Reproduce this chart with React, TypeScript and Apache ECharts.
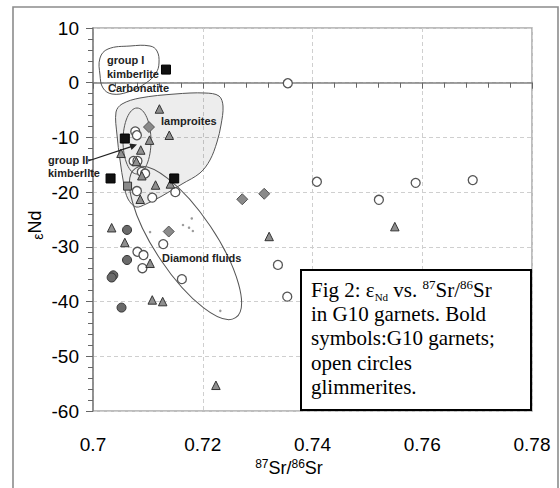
import React, { useEffect, useRef } from 'react';
import * as echarts from 'echarts';

// ---- data (87Sr/86Sr , eps Nd) ----
const blackSquares: number[][] = [[0.7133, 2.4], [0.7058, -10.2], [0.7032, -17.5], [0.7148, -17.5]];
const graySquares: number[][] = [[0.7063, -18.9]];
const triangles: number[][] = [
  [0.7121, -4.8], [0.7139, -9.6], [0.7103, -10.5], [0.7051, -12.9], [0.7087, -12.3],
  [0.7079, -14.4], [0.7089, -17.0], [0.7114, -18.7], [0.7141, -18.5], [0.7086, -21.3],
  [0.7034, -26.5], [0.7058, -29.2], [0.7104, -33.0], [0.7108, -39.7], [0.7127, -40.0],
  [0.7224, -55.3], [0.7321, -28.1], [0.755, -26.3],
];
const darkCircles: number[][] = [[0.7062, -26.9], [0.7062, -32.4], [0.7037, -35.2], [0.7034, -35.6], [0.7052, -41.1]];
const diamonds: number[][] = [[0.7102, -8.1], [0.7138, -27.2], [0.7272, -21.3], [0.7312, -20.3]];
const openCircles: number[][] = [
  [0.7355, -0.1], [0.7077, -8.9], [0.708, -9.6], [0.7074, -14.3], [0.7081, -14.3],
  [0.7089, -16.3], [0.7095, -16.6], [0.708, -19.8], [0.715, -20.0], [0.7108, -21.0],
  [0.7128, -29.5], [0.7081, -30.9], [0.7092, -31.5], [0.709, -33.9], [0.7162, -35.9],
  [0.7337, -33.3], [0.7354, -39.1], [0.7408, -18.1], [0.7588, -18.3], [0.7692, -17.8],
  [0.7521, -21.4],
];
const fluidDots: number[][] = [[0.7164, -26.0], [0.7175, -26.5], [0.718, -24.8], [0.7182, -27.1], [0.7104, -27.3], [0.7232, -41.7]];

const xMin = 0.7, xMax = 0.78, xStep = 0.02;
const yMin = -60, yMax = 10, yStep = 10;

const captionLines: string[] = [
  'Fig 2: ε{sub|Nd} vs. {sup|87}Sr/{sup|86}Sr',
  'in G10 garnets. Bold',
  'symbols:G10 garnets;',
  'open circles',
  'glimmerites.',
];

const SANS = '"Liberation Sans", Arial, sans-serif';
const SERIF = '"Liberation Serif", "Times New Roman", serif';

export default function App() {
  const ref = useRef<HTMLDivElement>(null);
  useEffect(() => {
    const chart = echarts.init(ref.current!, null, { renderer: 'svg' });
    const label = (text: string, x: number, y: number) => ({
      type: 'text', x, y, z: 12, silent: true,
      style: { text, font: `bold 11px ${SANS}`, fill: '#222', align: 'left', verticalAlign: 'middle' },
    });
    const scatter = (data: number[][], symbol: string, size: number, color: string, border: string, bw: number, z: number) => ({
      type: 'scatter', data, symbol, symbolSize: size, z, silent: true,
      itemStyle: { color, borderColor: border, borderWidth: bw, opacity: 1 },
      emphasis: { disabled: true },
    });
    const tip = [137, 144.5];
    chart.setOption({
      animation: false,
      backgroundColor: '#fff',
      grid: { left: 93, right: 28, top: 28, bottom: 77, show: true, borderColor: '#a8a8a8', borderWidth: 1.5, backgroundColor: 'transparent' },
      xAxis: {
        type: 'value', min: xMin, max: xMax, interval: xStep,
        axisLine: { show: true, lineStyle: { color: '#808080', width: 1.5 } },
        axisTick: { show: true, length: 6, lineStyle: { color: '#666' } },
        minorTick: { show: true, splitNumber: 5, length: 5, lineStyle: { color: '#666' } },
        splitLine: { show: true, lineStyle: { color: '#cfcfcf', type: [4, 3] } },
        axisLabel: {
          margin: 24, fontFamily: SANS, fontSize: 19, color: '#000',
          formatter: (v: number) => String(parseFloat(v.toFixed(2))),
        },
      },
      yAxis: {
        type: 'value', min: yMin, max: yMax, interval: yStep,
        axisLine: { show: true, lineStyle: { color: '#808080', width: 1.5 } },
        axisTick: { show: true, length: 7, lineStyle: { color: '#666' } },
        minorTick: { show: true, splitNumber: 5, length: 5, lineStyle: { color: '#666' } },
        splitLine: { show: true, lineStyle: { color: '#cfcfcf', type: [4, 3] } },
        axisLabel: { margin: 14, fontFamily: SANS, fontSize: 19, color: '#000' },
      },
      graphic: {
        elements: [
          { type: 'rect', z: 0, silent: true, shape: { x: 13, y: 7, width: 545, height: 500 }, style: { fill: 'none', stroke: '#8c8c8c', lineWidth: 1.6 } },
          // lamproites field
          {
            type: 'polygon', z: 1, silent: true,
            shape: {
              smooth: 0.35,
              points: [[116, 112], [122, 104], [140, 98], [175, 94], [205, 93], [219, 96], [223, 106], [221, 125], [217, 142], [210, 160], [200, 173], [182, 184], [162, 196], [146, 204], [136, 207], [128, 199], [124, 185], [120, 160], [117, 135]],
            },
            style: { fill: 'rgba(0,0,0,0.07)', stroke: '#555', lineWidth: 1 },
          },
          // group I blob
          {
            type: 'polygon', z: 1, silent: true,
            shape: { smooth: 0.4, points: [[100, 58], [108, 49], [130, 46], [150, 46], [157, 51], [159, 63], [156, 73], [146, 83], [128, 92], [112, 94], [103, 88], [100, 75]] },
            style: { fill: 'none', stroke: '#555', lineWidth: 1 },
          },
          // group II ellipse
          { type: 'ellipse', z: 1, silent: true, shape: { cx: 137, cy: 141, rx: 14, ry: 33 }, style: { fill: 'none', stroke: '#555', lineWidth: 1 } },
          // diamond fluids ellipse
          {
            type: 'group', x: 185.5, y: 243, rotation: -0.98, z: 1, silent: true,
            children: [{ type: 'ellipse', z: 1, shape: { cx: 0, cy: 0, rx: 90, ry: 30 }, style: { fill: 'none', stroke: '#555', lineWidth: 1 } }],
          },
          // arrow
          { type: 'line', z: 12, silent: true, shape: { x1: 88, y1: 161, x2: 132, y2: 146.3 }, style: { stroke: '#222', lineWidth: 1.3 } },
          { type: 'polygon', z: 12, silent: true, shape: { points: [tip, [131.5, 150], [129.3, 143.4]] }, style: { fill: '#222' } },
          label('group I', 107, 60),
          label('kimberlite', 107, 74),
          label('Carbonatite', 108, 88),
          label('lamproites', 161, 121),
          label('group II', 48, 160),
          label('kimberlite', 48, 173),
          label('Diamond fluids', 162, 258),
          // axis titles
          {
            type: 'text', x: 289, y: 468, z: 12, silent: true,
            style: {
              text: '{sup|87}Sr/{sup|86}Sr', fontFamily: SANS, fontSize: 18, lineHeight: 20, fill: '#000', align: 'center', verticalAlign: 'middle',
              rich: { sup: { fontFamily: SANS, fontSize: 12, lineHeight: 12, verticalAlign: 'top', fill: '#000' } },
            },
          },
          {
            type: 'text', x: 35, y: 225, rotation: Math.PI / 2, z: 12, silent: true,
            style: {
              text: '{e|ε}Nd', fontFamily: SANS, fontSize: 18, lineHeight: 20, fill: '#000', align: 'center', verticalAlign: 'middle',
              rich: { e: { fontFamily: SANS, fontSize: 14, lineHeight: 14, verticalAlign: 'bottom', fill: '#000' } },
            },
          },
          // caption box
          { type: 'rect', z: 20, silent: true, shape: { x: 301, y: 270, width: 230, height: 140 }, style: { fill: '#fff', stroke: '#000', lineWidth: 2 } },
          ...captionLines.map((t, i) => ({
            type: 'text', x: 311, y: 290 + i * 24.2, z: 21, silent: true,
            style: {
              text: t, fontFamily: SERIF, fontSize: 21, lineHeight: 24, fill: '#000', align: 'left', verticalAlign: 'middle',
              rich: {
                sub: { fontFamily: SERIF, fontSize: 11, lineHeight: 11, verticalAlign: 'bottom', fill: '#000' },
                sup: { fontFamily: SERIF, fontSize: 13, lineHeight: 13, verticalAlign: 'top', fill: '#000' },
              },
            },
          })),
        ],
      },
      series: [
        scatter(fluidDots, 'circle', 2.5, '#9a9a9a', '#9a9a9a', 0, 2),
        scatter(openCircles, 'circle', 9, '#fff', '#555', 1.3, 3),
        scatter(triangles, 'triangle', 8.5, '#8f8f8f', '#333', 1, 4),
        scatter(diamonds, 'diamond', 11, '#8a8a8a', '#555', 1, 4),
        scatter(darkCircles, 'circle', 9, '#6a6a6a', '#333', 1, 4),
        scatter(graySquares, 'rect', 8, '#8a8a8a', '#333', 1, 5),
        scatter(blackSquares, 'rect', 9, '#111', '#000', 1, 5),
      ],
    });
    return () => chart.dispose();
  }, []);
  return <div ref={ref} style={{ position: 'fixed', left: 0, top: 0, width: 560, height: 488, background: '#fff' }} />;
}
